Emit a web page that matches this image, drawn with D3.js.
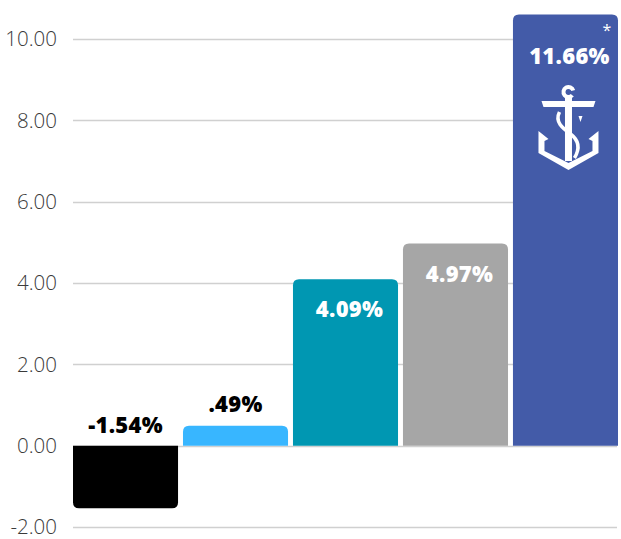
<!DOCTYPE html>
<html>
<head>
<meta charset="utf-8">
<script src="https://cdn.jsdelivr.net/npm/d3@7"></script>
<style>
  body { margin: 0; background: #fff; }
  svg { display: block; }
</style>
</head>
<body>
<svg id="chart" width="621" height="539"></svg>
<script>
// data
const categories = ["A", "B", "C", "D", "E"];
const values = [-1.54, 0.49, 4.09, 4.97, 11.66];
const labels = ["-1.54%", ".49%", "4.09%", "4.97%", "11.66%"];
const colors = ["#000000", "#38b6ff", "#0097b2", "#a6a6a6", "#435ba8"];
const yTicks = [-2, 0, 2, 4, 6, 8, 10];

const svg = d3.select("#chart");
const width = +svg.attr("width");
const height = +svg.attr("height");

const yMax = 10.6; // top of plot, tallest bar gets cut here
const y = d3.scaleLinear().domain([-2, yMax]).range([527, 14.6]);
const x = d3.scaleBand().domain(categories).range([73, 618]).paddingInner(0.045).paddingOuter(0);

// gridlines
svg.append("g")
  .selectAll("line")
  .data(yTicks)
  .join("line")
  .attr("x1", 73).attr("x2", 617)
  .attr("y1", d => Math.round(y(d)) + 0.5)
  .attr("y2", d => Math.round(y(d)) + 0.5)
  .attr("stroke", "#d0d0d0")
  .attr("stroke-width", 1.3);

// y axis labels (plain hyphen for minus, like the original)
const yAxis = d3.axisLeft(y).tickValues(yTicks).tickFormat(d => d.toFixed(2)).tickSize(0).tickPadding(0);
const ag = svg.append("g").attr("transform", "translate(57,0)").call(yAxis);
ag.select(".domain").remove();
ag.selectAll("text")
  .attr("font-family", "'Open Sans', sans-serif")
  .attr("font-weight", 300)
  .attr("font-size", 20.5)
  .attr("fill", "#3a3a3a")
  .attr("dy", "0.33em");

// bar path with rounded far end
function barPath(x0, w, v) {
  const r = 6;
  const y0 = y(0);
  const y1 = y(Math.min(v, yMax));
  if (v >= 0) {
    return `M${x0},${y0} V${y1 + r} Q${x0},${y1} ${x0 + r},${y1} H${x0 + w - r} Q${x0 + w},${y1} ${x0 + w},${y1 + r} V${y0} Z`;
  }
  return `M${x0},${y0} V${y1 - r} Q${x0},${y1} ${x0 + r},${y1} H${x0 + w - r} Q${x0 + w},${y1} ${x0 + w},${y1 - r} V${y0} Z`;
}

const bars = categories.map((c, i) => ({ c, v: values[i], label: labels[i], color: colors[i] }));

svg.append("g")
  .selectAll("path")
  .data(bars)
  .join("path")
  .attr("d", d => barPath(x(d.c), x.bandwidth(), d.v))
  .attr("fill", d => d.color);

// value labels
svg.append("g")
  .selectAll("text")
  .data(bars)
  .join("text")
  .attr("x", d => x(d.c) + x.bandwidth() / 2 + (d.v > 1 ? 4 : 0))
  .attr("y", d => {
    if (d.v < 0) return y(0) - 13;
    if (d.v < 1) return y(d.v) - 14;
    if (d.v > yMax) return y(yMax) + 49;
    return y(d.v) + 38;
  })
  .attr("text-anchor", "middle")
  .attr("font-family", "'Open Sans', sans-serif")
  .attr("font-weight", 800)
  .attr("font-size", 22)
  .attr("letter-spacing", 0.3)
  .attr("fill", d => d.v > 1 ? "#ffffff" : "#000000")
  .text(d => d.label);

// asterisk on the cut bar
const last = bars[bars.length - 1];
svg.append("text")
  .attr("x", x(last.c) + x.bandwidth() - 11)
  .attr("y", y(yMax) + 21)
  .attr("text-anchor", "middle")
  .attr("font-family", "'Open Sans', sans-serif")
  .attr("font-size", 16)
  .attr("fill", "#ffffff")
  .text("*");

// anchor icon
const cx = x(last.c) + x.bandwidth() / 2 + 3;
const icon = svg.append("g").attr("transform", `translate(${cx},0)`).attr("fill", "#fff");
// ring (C shape)
icon.append("path")
  .attr("d", d3.arc()({ innerRadius: 3, outerRadius: 7, startAngle: 0.7, endAngle: 2 * Math.PI - 0.3 }))
  .attr("transform", "translate(0,92) rotate(90)");
// stock
icon.append("path").attr("d", "M-27,101 H27 L25,107 H-25 Z");
// shank
icon.append("rect").attr("x", -3.5).attr("y", 97).attr("width", 7).attr("height", 64);
// arms
icon.append("path").attr("d",
  "M-30,131 L-20,139 L-24,141 L-24,151 L0,163 L24,151 L24,141 L20,139 L30,131 L30,153 L0,170 L-30,153 Z");
// rope
icon.append("path")
  .attr("d", "M-9,112 C-14,122 -6,128 2,134 C10,140 12,148 6,158")
  .attr("fill", "none")
  .attr("stroke", "#fff")
  .attr("stroke-width", 3.5);
icon.append("path").attr("d", "M10,116 L14,116 L12,122 Z");
</script>
</body>
</html>
